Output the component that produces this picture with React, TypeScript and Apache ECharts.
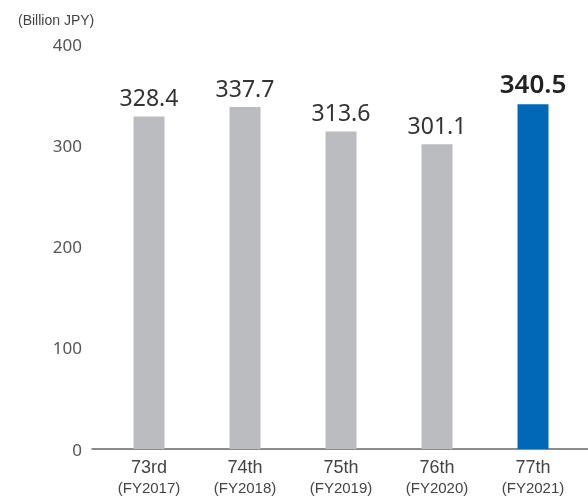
import React, { useEffect, useRef } from "react";
import * as echarts from "echarts";

const terms = ["73rd", "74th", "75th", "76th", "77th"];
const fiscalYears = ["FY2017", "FY2018", "FY2019", "FY2020", "FY2021"];
const sales = [328.4, 337.7, 313.6, 301.1, 340.5];
const yTicks = { min: 0, max: 400, interval: 100 };
const unitLabel = "(Billion JPY)";

const GRAY = "#BBBCBF";
const BLUE = "#0068B7";

export default function App() {
  const ref = useRef<HTMLDivElement>(null);

  useEffect(() => {
    if (!ref.current) return;
    const chart = echarts.init(ref.current, undefined, { renderer: "svg" });
    const last = sales.length - 1;

    chart.setOption({
      animation: false,
      title: {
        text: unitLabel,
        left: 13,
        top: 8,
        textStyle: {
          fontFamily: "Liberation Sans",
          fontSize: 14,
          fontWeight: "normal",
          color: "#444",
        },
      },
      grid: [
        { left: 101, right: 7, top: 44, bottom: 50 },
        { left: 92, right: 0, top: 44, bottom: 50 },
      ],
      xAxis: [
        {
          type: "category",
          gridIndex: 0,
          data: terms.map((t, i) => `{a|${t}}\n{b|(${fiscalYears[i]})}`),
          axisLine: { show: false },
          axisTick: { show: false },
          axisLabel: {
            margin: 7,
            interval: 0,
            color: "#444",
            rich: {
              a: { fontFamily: "Liberation Sans", fontSize: 18, lineHeight: 21, color: "#444" },
              b: { fontFamily: "Liberation Sans", fontSize: 15, lineHeight: 21, color: "#444" },
            },
          },
        },
        {
          type: "value",
          gridIndex: 1,
          min: 0,
          max: 1,
          axisLine: { show: true, lineStyle: { color: "#666", width: 1.5 } },
          axisTick: { show: false },
          axisLabel: { show: false },
          splitLine: { show: false },
        },
      ],
      yAxis: [
        {
          type: "value",
          gridIndex: 0,
          min: yTicks.min,
          max: yTicks.max,
          interval: yTicks.interval,
          axisLine: { show: false },
          axisTick: { show: false },
          splitLine: { show: false },
          axisLabel: {
            margin: 19,
            fontFamily: "Noto Sans",
            fontSize: 17,
            color: "#555",
          },
        },
        {
          type: "value",
          gridIndex: 1,
          min: yTicks.min,
          max: yTicks.max,
          show: false,
        },
      ],
      series: [
        {
          type: "bar",
          xAxisIndex: 0,
          yAxisIndex: 0,
          barWidth: 31,
          data: sales.map((v, i) => ({
            value: v,
            itemStyle: { color: i === last ? BLUE : GRAY },
            label:
              i === last
                ? { fontSize: 26, fontWeight: 600, color: "#222" }
                : undefined,
          })),
          label: {
            show: true,
            position: "top",
            distance: 8,
            fontFamily: "Noto Sans",
            fontSize: 23,
            color: "#333",
            formatter: (p: any) => p.value.toFixed(1),
          },
        },
      ],
    });

    return () => chart.dispose();
  }, []);

  return (
    <div
      ref={ref}
      style={{ position: "fixed", left: 0, top: 0, width: 588, height: 499 }}
    />
  );
}
